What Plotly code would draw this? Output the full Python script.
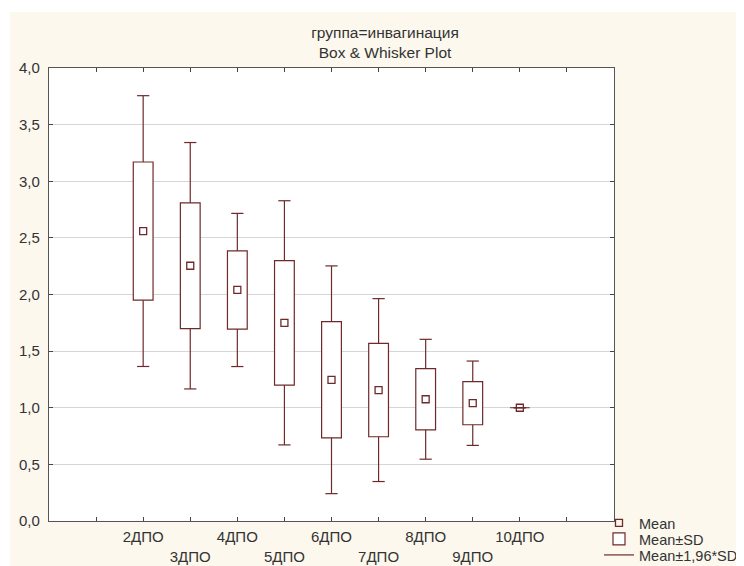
import plotly.graph_objects as go

# ---- data ----
categories = ['2ДПО', '3ДПО', '4ДПО', '5ДПО', '6ДПО', '7ДПО', '8ДПО', '9ДПО', '10ДПО']
mean_vals = [2.56, 2.254, 2.04, 1.75, 1.247, 1.156, 1.075, 1.04, 1.00]
sd_vals = [0.61, 0.555, 0.345, 0.55, 0.513, 0.412, 0.27, 0.19, 0.0]
y_ticks = [0.0, 0.5, 1.0, 1.5, 2.0, 2.5, 3.0, 3.5, 4.0]
title_lines = ['группа=инвагинация', 'Box & Whisker Plot']
legend_names = ['Mean', 'Mean±SD', 'Mean±1,96*SD']

# ---- styles ----
LINE = '#6E2A2A'
FONT = 'Liberation Sans, Arial, sans-serif'
TXT = '#333333'
BG = '#FCF8EE'
BOX_W = 0.42         # box width in axis units
CAP = 0.13           # half whisker cap width in axis units

xpos = [i + 2 for i in range(len(categories))]
sd_lo = [m - s for m, s in zip(mean_vals, sd_vals)]
sd_hi = [m + s for m, s in zip(mean_vals, sd_vals)]
w_lo = [m - 1.96 * s for m, s in zip(mean_vals, sd_vals)]
w_hi = [m + 1.96 * s for m, s in zip(mean_vals, sd_vals)]

# whiskers (Mean ± 1.96*SD): stems + caps
wx, wy = [], []
for x, lo, hi, blo, bhi in zip(xpos, w_lo, w_hi, sd_lo, sd_hi):
    wx += [x, x, None, x, x, None, x - CAP, x + CAP, None, x - CAP, x + CAP, None]
    wy += [lo, blo, None, bhi, hi, None, lo, lo, None, hi, hi, None]

fig = go.Figure()
# boxes: Mean ± SD
fig.add_trace(go.Bar(
    x=xpos, base=sd_lo, y=[h - l for l, h in zip(sd_lo, sd_hi)], width=BOX_W,
    marker=dict(color='white', line=dict(color=LINE, width=1.2)),
    name=legend_names[1], legend='legend2', hoverinfo='skip'))
fig.add_trace(go.Scatter(
    x=wx, y=wy, mode='lines', name=legend_names[2], legend='legend3',
    line=dict(color=LINE, width=1.2), hoverinfo='skip'))
fig.add_trace(go.Scatter(
    x=xpos, y=mean_vals, mode='markers', name=legend_names[0], legend='legend',
    marker=dict(symbol='square-open', size=7, color=LINE, line=dict(width=1.3, color=LINE))))

ticktext = ['']
for i, c in enumerate(categories):
    ticktext.append(c if i % 2 == 0 else '<br>' + c)
ticktext.append('')

# page body adds an 8px offset; figure pixel = reference pixel - 8
OFF = 8
L, T = 49 - OFF, 68 - OFF
W, H = 744 - OFF, 566 - OFF
PR, PB = 614 - OFF, 521 - OFF
PW, PH = PR - L, PB - T


def leg(row_y_ref):
    return dict(x=(599 - OFF - L) / PW, xanchor='left',
                y=(PB - (row_y_ref - OFF)) / PH, yanchor='middle',
                bgcolor='rgba(0,0,0,0)', font=dict(family=FONT, size=14.5, color=TXT),
                itemwidth=30)


fig.update_layout(
    width=W, height=H,
    margin=dict(l=L, r=W - PR, t=T, b=H - PB, autoexpand=False),
    paper_bgcolor=BG, plot_bgcolor='white',
    separators=', ',
    font=dict(family=FONT, size=15, color=TXT),
    title=dict(text='<br>'.join(title_lines), x=(385 - OFF) / W, xanchor='center',
               y=1 - 30 / H, yanchor='top', xref='container', yref='container',
               font=dict(family=FONT, size=15.5, color=TXT)),
    showlegend=True,
    legend=leg(523), legend2=leg(539), legend3=leg(555),
    shapes=[
        dict(type='rect', xref='paper', yref='paper', x0=-L / PW, x1=(2 - L) / PW,
             y0=-(H - PB) / PH, y1=PB / PH, fillcolor='white', line=dict(width=0), layer='below'),
        dict(type='rect', xref='paper', yref='paper', x0=-L / PW, x1=(W - L) / PW,
             y0=(PB - 4) / PH, y1=PB / PH, fillcolor='white', line=dict(width=0), layer='below'),
    ],
)
fig.update_xaxes(
    range=[0, 12], tickmode='array', tickvals=list(range(1, 12)), ticktext=ticktext,
    tickangle=0, automargin=False, ticklabelstandoff=2,
    ticks='inside', ticklen=4, tickcolor='#444444', showgrid=False, zeroline=False,
    showline=True, linecolor='#555555', linewidth=1.3, mirror='ticks',
    tickfont=dict(family=FONT, size=15, color=TXT))
fig.update_yaxes(
    range=[0, 4], tickmode='array', tickvals=y_ticks, tickformat='.1f', automargin=False,
    ticklabelstandoff=5,
    ticks='inside', ticklen=4, tickcolor='#444444', showgrid=True, gridcolor='#D6D6D6',
    gridwidth=1, zeroline=False, showline=True, linecolor='#555555', linewidth=1.3,
    mirror='ticks', tickfont=dict(family=FONT, size=15, color=TXT))

fig.write_html('out.html')
